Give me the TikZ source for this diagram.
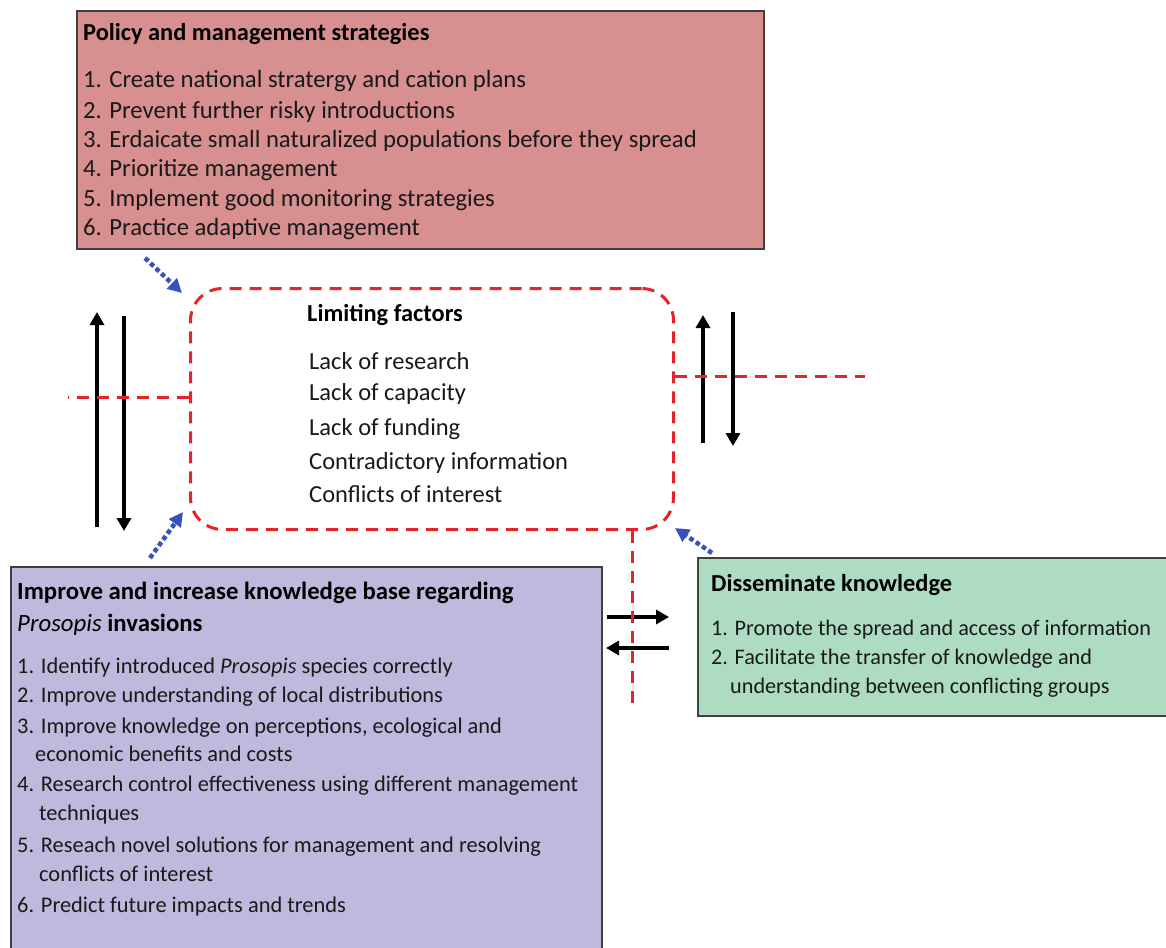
\documentclass[tikz,border=0pt]{standalone}
\usepackage{fontspec}
\setmainfont{Carlito}
\usetikzlibrary{arrows.meta}
\definecolor{pinkfill}{RGB}{216,143,143}
\definecolor{purplefill}{RGB}{190,185,221}
\definecolor{greenfill}{RGB}{174,220,195}
\definecolor{dashred}{RGB}{228,36,40}
\definecolor{dotblue}{RGB}{55,80,190}
\definecolor{textcol}{RGB}{25,25,25}
\begin{document}
\begin{tikzpicture}[x=1pt,y=-1pt,
  panel/.style={draw=black!75, line width=1.6pt, inner sep=0pt, anchor=north west},
  limbox/.style={draw=dashred, line width=3pt, dash pattern=on 12pt off 8pt, rounded corners=32pt, inner sep=0pt, anchor=north west},
  reddash/.style={draw=dashred, line width=3pt, dash pattern=on 12pt off 8pt},
  bluedot/.style={draw=dotblue, line width=4.5pt, dash pattern=on 4.5pt off 3pt, -{Triangle[length=14pt,width=14pt]}},
  blackarr/.style={draw=black, line width=4pt, -{Triangle[length=13pt,width=14pt]}},
  pinkt/.style={anchor=base west, inner sep=0pt, text=textcol, font=\fontsize{24.7}{28}\selectfont},
  limt/.style={anchor=base west, inner sep=0pt, text=textcol, font=\fontsize{24.5}{28}\selectfont},
  purpt/.style={anchor=base west, inner sep=0pt, text=textcol, font=\fontsize{22.4}{26}\selectfont},
  greent/.style={anchor=base west, inner sep=0pt, text=textcol, font=\fontsize{22.2}{26}\selectfont},
  ttl/.style={anchor=base west, inner sep=0pt, text=black, font=\fontsize{24.4}{28}\selectfont\bfseries},
  ttlk/.style={anchor=base west, inner sep=0pt, text=black, font=\fontsize{24.8}{28}\selectfont\bfseries}
]
\useasboundingbox (0,0) rectangle (1166,947);
\fill[white] (0,0) rectangle (1166,947);

% panels
\node[panel, fill=pinkfill, minimum width=687pt, minimum height=238pt] (policy) at (76,10) {};
\node[limbox, minimum width=483pt, minimum height=241pt] (lim) at (189,287) {};
\node[panel, fill=purplefill, minimum width=591pt, minimum height=400pt] (know) at (10,566) {};
\node[panel, fill=greenfill, minimum width=480pt, minimum height=158pt] (diss) at (697,557) {};

% policy text
\node[ttl] (pt) at (83,41) {Policy and management strategies};
\node[pinkt] (p1) at (83,88) {1. Create national stratergy and cation plans};
\node[pinkt] (p2) at (83,118) {2. Prevent further risky introductions};
\node[pinkt] (p3) at (83,147) {3. Erdaicate small naturalized populations before they spread};
\node[pinkt] (p4) at (83,176) {4. Prioritize management};
\node[pinkt] (p5) at (83,206) {5. Implement good monitoring strategies};
\node[pinkt] (p6) at (83,235) {6. Practice adaptive management};

% limiting factors text
\node[ttl] (lt) at (307,321) {Limiting factors};
\node[limt] (l1) at (309,369) {Lack of research};
\node[limt] (l2) at (309,400) {Lack of capacity};
\node[limt] (l3) at (309,435) {Lack of funding};
\node[limt] (l4) at (309,469) {Contradictory information};
\node[limt] (l5) at (309,502) {Conflicts of interest};

% knowledge text
\node[ttlk] (kt1) at (17,599) {Improve and increase knowledge base regarding};
\node[ttlk] (kt2) at (17,631) {\mdseries\itshape Prosopis\/ \upshape\bfseries invasions};
\node[purpt] (k1) at (17,673) {1. Identify introduced \textit{Prosopis} species correctly};
\node[purpt] (k2) at (17,702) {2. Improve understanding of local distributions};
\node[purpt] (k3) at (17,733) {3. Improve knowledge on perceptions, ecological and};
\node[purpt] (k3b) at (35,761) {economic benefits and costs};
\node[purpt] (k4) at (17,791) {4. Research control effectiveness using different management};
\node[purpt] (k4b) at (39,820) {techniques};
\node[purpt] (k5) at (17,852) {5. Reseach novel solutions for management and resolving};
\node[purpt] (k5b) at (39,881) {conflicts of interest};
\node[purpt] (k6) at (17,912) {6. Predict future impacts and trends};

% disseminate text
\node[ttl] (dt) at (711,591) {Disseminate knowledge};
\node[greent] (d1) at (711,635) {1. Promote the spread and access of information};
\node[greent] (d2) at (711,664) {2. Facilitate the transfer of knowledge and};
\node[greent] (d2b) at (730,693) {understanding between conflicting groups};

% black arrows
\coordinate (lu0) at (97,527); \coordinate (lu1) at (97,312);
\coordinate (ld0) at (124,316); \coordinate (ld1) at (124,531);
\coordinate (ru0) at (703,443); \coordinate (ru1) at (703,315);
\coordinate (rd0) at (733,312); \coordinate (rd1) at (733,446);
\coordinate (hr0) at (607,617); \coordinate (hr1) at (669,617);
\coordinate (hl0) at (669,648); \coordinate (hl1) at (606,648);
\draw[blackarr] (lu0) -- (lu1);
\draw[blackarr] (ld0) -- (ld1);
\draw[blackarr] (ru0) -- (ru1);
\draw[blackarr] (rd0) -- (rd1);
\draw[blackarr] (hr0) -- (hr1);
\draw[blackarr] (hl0) -- (hl1);

% red dashed lines
\coordinate (lfree) at (68,397);
\coordinate (rfree) at (865,376);
\coordinate (bfree) at (632,705);
\draw[reddash] (lim.west |- lfree) -- (lfree);
\draw[reddash] (lim.east |- rfree) -- (rfree);
\draw[reddash] (lim.south -| bfree) -- (bfree);

% blue dotted arrows
\coordinate (b1) at (145,258);
\coordinate (b1t) at (182,293);
\coordinate (b2) at (150,558);
\coordinate (b2t) at (183,512);
\coordinate (b3) at (712,553);
\coordinate (b3t) at (675,528);
\draw[bluedot] (b1) -- (b1t);
\draw[bluedot] (b2) -- (b2t);
\draw[bluedot] (b3) -- (b3t);
\end{tikzpicture}
\end{document}
